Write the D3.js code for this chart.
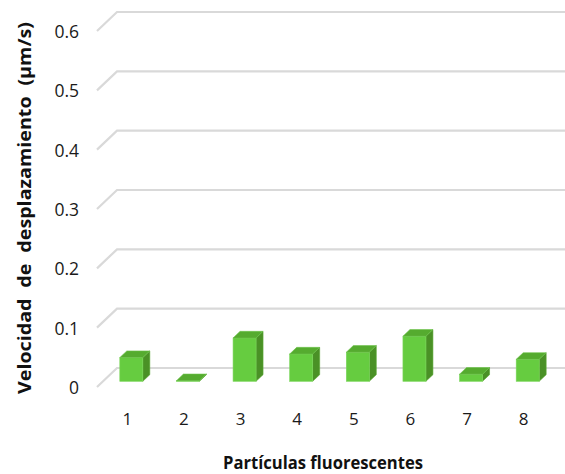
<!DOCTYPE html>
<html><head><meta charset="utf-8">
<script src="https://cdn.jsdelivr.net/npm/d3@7"></script>
<style>html,body{margin:0;padding:0;background:#fff;}</style>
</head><body>
<svg id="c" width="565" height="474"></svg>
<script>
const categories = ["1","2","3","4","5","6","7","8"];
const values = [0.040, 0.001, 0.073, 0.046, 0.049, 0.076, 0.012, 0.037];
const yTicks = [0, 0.1, 0.2, 0.3, 0.4, 0.5, 0.6];
const yTitle = "Velocidad de desplazamiento  (µm/s)";
const xTitle = "Partículas fluorescentes";

const svg = d3.select("#c");
const depthX = 20, depthY = -19;
const y = d3.scaleLinear().domain([0, 0.6]).range([387, 31]);
const x = d3.scaleBand().domain(categories).range([97, 550]).paddingInner(0.594).paddingOuter(0.297);
const off = f => [depthX * f, depthY * f];

// gridlines (back wall + floor diagonal)
const grid = svg.append("g");
yTicks.forEach(v => {
  const y0 = y(v);
  grid.append("path")
    .attr("d", `M${97},${y0} L${97 + depthX},${y0 + depthY} L${575},${y0 + depthY}`)
    .attr("fill", "none").attr("stroke", "#d9d9d9").attr("stroke-width", 2.2);
});

// y labels
svg.append("g").selectAll("text").data(yTicks).join("text")
  .attr("x", 79).attr("y", d => y(d) + 7)
  .attr("text-anchor", "end")
  .attr("font-family", "'Open Sans', 'Liberation Sans', sans-serif")
  .attr("font-size", 17.5).attr("fill", "#1a1a1a")
  .text(d => d === 0 ? "0" : d.toFixed(1));

// bars
const fF = 0.3, fB = 0.65;
const [fx, fy] = off(fF), [bx, by] = off(fB);
const bw = x.bandwidth();
const bars = svg.append("g");
categories.forEach((c, i) => {
  const v = values[i];
  const x0 = x(c) + fx;
  const yb = y(0) + fy, yt = y(v) + fy;
  const ddx = bx - fx, ddy = by - fy;
  const g = bars.append("g");
  g.append("path")
    .attr("d", `M${x0 + bw},${yt} L${x0 + bw + ddx},${yt + ddy} L${x0 + bw + ddx},${yb + ddy} L${x0 + bw},${yb} Z`)
    .attr("fill", "#4a9126").attr("stroke", "#5aa834").attr("stroke-width", 0.6);
  g.append("rect").attr("x", x0).attr("y", yt).attr("width", bw).attr("height", Math.max(0, yb - yt))
    .attr("fill", "#66cc40").attr("stroke", "#7ad65a").attr("stroke-width", 0.6);
  g.append("path")
    .attr("d", `M${x0},${yt} L${x0 + ddx},${yt + ddy} L${x0 + bw + ddx},${yt + ddy} L${x0 + bw},${yt} Z`)
    .attr("fill", "#55ab2f").attr("stroke", "#6cc24a").attr("stroke-width", 0.6);
});

// x labels
svg.append("g").selectAll("text").data(categories).join("text")
  .attr("x", d => x(d) + bw / 2 + 2).attr("y", 425)
  .attr("text-anchor", "middle")
  .attr("font-family", "'Open Sans', 'Liberation Sans', sans-serif")
  .attr("font-size", 17).attr("fill", "#1a1a1a")
  .text(d => d);

// titles
svg.append("text").attr("x", 323).attr("y", 469).attr("text-anchor", "middle")
  .attr("font-family", "'Open Sans', 'Liberation Sans', sans-serif")
  .attr("font-weight", "bold").attr("font-size", 17.5).attr("fill", "#111")
  .attr("textLength", 200).attr("lengthAdjust", "spacingAndGlyphs")
  .text(xTitle);

svg.append("text").attr("transform", "translate(31,208) rotate(-90)")
  .attr("text-anchor", "middle")
  .attr("font-family", "'Open Sans', 'Liberation Sans', sans-serif")
  .attr("font-weight", "bold").attr("font-size", 17).attr("fill", "#111")
  .attr("word-spacing", 5)
  .attr("textLength", 372).attr("lengthAdjust", "spacingAndGlyphs")
  .text(yTitle);
</script>
</body></html>
